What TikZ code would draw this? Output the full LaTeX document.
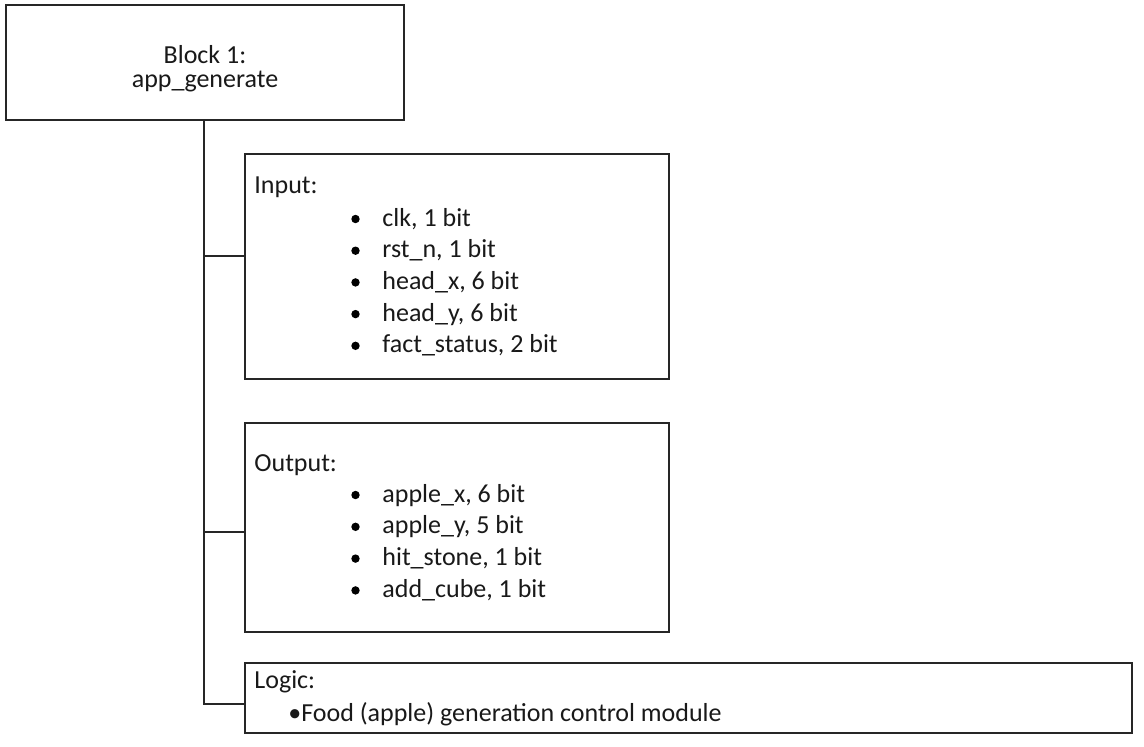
\documentclass[tikz,border=0pt]{standalone}
\usepackage{fontspec}
\setmainfont{Carlito}
\begin{document}
\begin{tikzpicture}[x=0.5pt,y=-0.5pt,
  box/.style={draw=black!85, line width=0.6pt, rectangle, anchor=north west, inner sep=0pt, outer sep=0pt},
  txt/.style={anchor=base west, inner sep=0pt, font=\fontsize{13}{15.6}\selectfont, text=black!90},
  bul/.style={circle, fill=black, inner sep=0pt, minimum size=4.2pt},
  link/.style={draw=black!85, line width=0.6pt}]
\useasboundingbox (0,0) rectangle (1144,746);
% boxes
\node[box, minimum width=199pt, minimum height=57.5pt] (blk) at (6,5) {};
\node[box, minimum width=212pt, minimum height=112.5pt] (inp) at (245,154) {};
\node[box, minimum width=212pt, minimum height=104.5pt] (outp) at (245,423) {};
\node[box, minimum width=443.5pt, minimum height=35pt] (logic) at (245,663) {};
% block text
\node[inner sep=0pt, anchor=base, font=\fontsize{13}{15.6}\selectfont, text=black!90] (blkA) at (205,63) {Block 1:};
\node[inner sep=0pt, anchor=base, font=\fontsize{13}{15.6}\selectfont, text=black!90] (blkB) at (205,87) {app\_generate};
% input
\node[txt] (inT) at (254,193) {Input:};
\foreach \t [count=\i] in {{clk, 1 bit},{rst\_n, 1 bit},{head\_x, 6 bit},{head\_y, 6 bit},{fact\_status, 2 bit}} {
  \pgfmathsetmacro{\yy}{226+31.7*(\i-1)}
  \node[bul] (inB\i) at (355.5,\yy-7) {};
  \node[txt] (inI\i) at (382,\yy) {\t};
}
% output
\node[txt] (outT) at (254,471) {Output:};
\foreach \t [count=\i] in {{apple\_x, 6 bit},{apple\_y, 5 bit},{hit\_stone, 1 bit},{add\_cube, 1 bit}} {
  \pgfmathsetmacro{\yy}{502+31.8*(\i-1)}
  \node[bul] (outB\i) at (355.5,\yy-7) {};
  \node[txt] (outI\i) at (382,\yy) {\t};
}
% logic
\node[txt] (logT) at (254,688) {Logic:};
\node[txt] (logI) at (288,721) {•Food (apple) generation control module};
% connectors
\coordinate (tr) at (204,704);
\draw[link] (blk.south -| tr) -- (tr) -- (tr -| logic.west);
\draw[link] (tr |- 0,256) -- (inp.west |- 0,256);
\draw[link] (tr |- 0,532) -- (outp.west |- 0,532);
\end{tikzpicture}
\end{document}
